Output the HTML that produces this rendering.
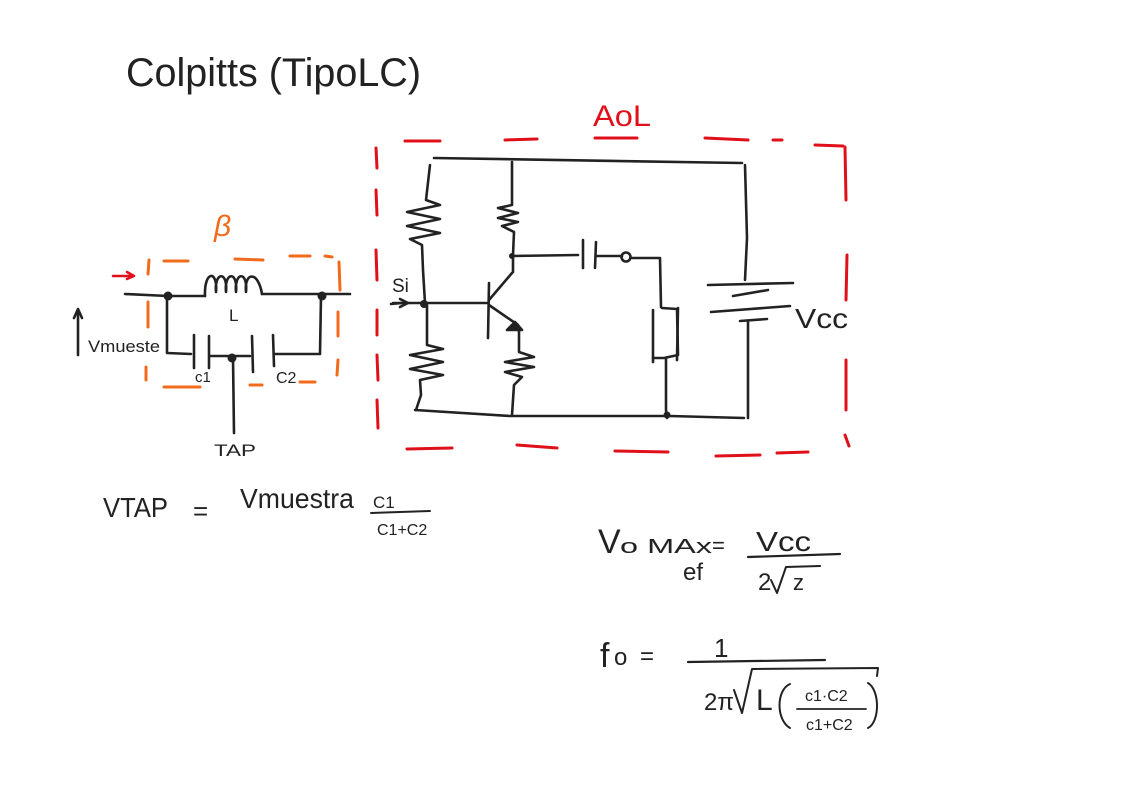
<!DOCTYPE html>
<html><head><meta charset="utf-8"><style>
html,body{margin:0;padding:0;background:#fff;}
svg{display:block}
text{font-family:"Liberation Sans",sans-serif;fill:#222}
</style></head><body>
<svg width="1123" height="793" viewBox="0 0 1123 793" xmlns="http://www.w3.org/2000/svg">
<g fill="none" stroke-linecap="round" stroke-linejoin="round">
<!-- Title -->
<text x="126" y="86" font-size="40" font-weight="300" textLength="295" lengthAdjust="spacingAndGlyphs" stroke="none">Colpitts (TipoLC)</text>
<!-- AoL -->
<text x="593" y="126" font-size="30" style="fill:#e0101a" textLength="58" lengthAdjust="spacingAndGlyphs">AoL</text>
<!-- red dashed box -->
<g stroke="#e0101a" stroke-width="3">
<line x1="376" y1="148" x2="377" y2="168"/><line x1="376" y1="190" x2="377" y2="215"/><line x1="376" y1="250" x2="377" y2="280"/><line x1="377" y1="310" x2="377" y2="335"/><line x1="377" y1="355" x2="378" y2="380"/><line x1="377" y1="400" x2="378" y2="428"/>
<line x1="405" y1="141" x2="440" y2="141"/><line x1="505" y1="140" x2="537" y2="139"/><line x1="595" y1="138" x2="637" y2="138"/><line x1="705" y1="138" x2="748" y2="140"/><line x1="773" y1="140" x2="782" y2="140"/><line x1="815" y1="145" x2="843" y2="146"/>
<line x1="845" y1="147" x2="846" y2="200"/><line x1="847" y1="255" x2="846" y2="300"/><line x1="846" y1="360" x2="846" y2="410"/><line x1="845" y1="435" x2="849" y2="446"/>
<line x1="407" y1="449" x2="452" y2="448"/><line x1="517" y1="445" x2="557" y2="448"/><line x1="615" y1="451" x2="668" y2="452"/><line x1="716" y1="456" x2="760" y2="455"/><line x1="777" y1="453" x2="808" y2="452"/>
</g>
<!-- main circuit -->
<g stroke="#222" stroke-width="2.6">
<line x1="434" y1="158" x2="742" y2="163"/>
<path d="M430 165 L426 200 L440 205 L407 212 L440 219 L407 226 L440 233 L410 239 L422 245 L423 270 L425 303"/>
<path d="M427 305 L427 345 L443 349 L410 355 L443 362 L410 369 L443 375 L420 380 L421 395 L416 410"/>
<path d="M415 410 L510 416 L670 416 L744 418"/>
<path d="M512 162 L512 205 L498 208 L518 213 L498 218 L518 222 L502 226 L514 232 L513 255 L513 272"/>
<path d="M512 256 L578 255"/><line x1="583" y1="240" x2="583" y2="268"/><line x1="596" y1="242" x2="595" y2="268"/><line x1="596" y1="256" x2="622" y2="256"/>
<circle cx="626" cy="257" r="4.5"/><path d="M631 258 L660 258 L661 307"/>
<path d="M662 308 L677 309 L678 355 L664 358 L653 358"/><line x1="653" y1="310" x2="653" y2="362"/><line x1="678" y1="308" x2="677" y2="360"/>
<path d="M666 358 L666 410 L667 418"/>
<line x1="393" y1="303" x2="488" y2="303"/><line x1="489" y1="283" x2="488" y2="338"/>
<line x1="489" y1="300" x2="512" y2="273"/>
<line x1="489" y1="305" x2="518" y2="325"/><path d="M507 330 L515 322 L522 330 Z" fill="#222"/>
<path d="M519 328 L519 352 L534 357 L505 362 L534 367 L505 372 L522 377 L514 385 L512 415"/>
<path d="M745 165 L747 238 L745 280"/>
<line x1="708" y1="285" x2="793" y2="283"/><line x1="733" y1="296" x2="768" y2="290"/><line x1="711" y1="312" x2="790" y2="306"/><line x1="740" y1="321" x2="767" y2="319"/>
<line x1="748" y1="322" x2="748" y2="418"/>
<line x1="391" y1="304" x2="402" y2="303"/><path d="M400 299 L408 303 L400 307" />
</g>
<circle cx="424" cy="304" r="4" fill="#222"/><circle cx="512" cy="256" r="3" fill="#222"/><circle cx="667" cy="415" r="3.5" fill="#222"/>
<text x="392" y="292" font-size="19">Si</text>
<text x="795" y="328" font-size="28" textLength="53" lengthAdjust="spacingAndGlyphs">Vcc</text>
<!-- beta -->
<text x="214" y="236" font-size="30" style="fill:#f26a1b" font-style="italic">β</text>
<g stroke="#f26a1b" stroke-width="3">
<line x1="149" y1="260" x2="148" y2="274"/><line x1="148" y1="302" x2="148" y2="327"/><line x1="146" y1="367" x2="146" y2="380"/>
<line x1="164" y1="261" x2="188" y2="261"/><line x1="235" y1="259" x2="263" y2="260"/><line x1="290" y1="256" x2="310" y2="256"/><line x1="325" y1="256" x2="332" y2="257"/>
<line x1="339" y1="262" x2="340" y2="290"/><line x1="338" y1="312" x2="338" y2="336"/><line x1="338" y1="360" x2="337" y2="375"/>
<line x1="164" y1="387" x2="200" y2="387"/><line x1="250" y1="385" x2="262" y2="385"/><line x1="300" y1="382" x2="315" y2="382"/>
</g>
<g stroke="#e0101a" stroke-width="2.5"><line x1="113" y1="276" x2="130" y2="276"/><path d="M127 272 L134 276 L127 279"/></g>
<g stroke="#222" stroke-width="2.6">
<path d="M125 294 L168 296 L205 296"/>
<path d="M205 296 C204 270 218 270 216 292 C214 272 228 270 226 292 C224 272 238 270 236 292 C234 272 248 270 246 292 C244 272 258 270 262 294"/>
<path d="M262 294 L350 294"/>
<path d="M167 296 L167 353 L191 354"/>
<line x1="194" y1="335" x2="194" y2="368"/><line x1="209" y1="336" x2="209" y2="368"/>
<line x1="210" y1="356" x2="250" y2="356"/>
<line x1="252" y1="336" x2="253" y2="372"/><line x1="273" y1="335" x2="274" y2="366"/>
<path d="M275 354 L320 354 L321 296"/>
<line x1="233" y1="358" x2="234" y2="433"/>
<line x1="78" y1="355" x2="78" y2="312"/><path d="M74 318 L78 309 L82 318"/>
</g>
<circle cx="168" cy="296" r="4.5" fill="#222"/><circle cx="322" cy="296" r="4.5" fill="#222"/><circle cx="232" cy="358" r="4.5" fill="#222"/>
<text x="229" y="321" font-size="17">L</text>
<text x="88" y="352" font-size="17" textLength="72" lengthAdjust="spacingAndGlyphs">Vmueste</text>
<text x="195" y="382" font-size="15">c1</text>
<text x="276" y="383" font-size="16">C2</text>
<text x="214" y="456" font-size="17" textLength="42" lengthAdjust="spacingAndGlyphs">TAP</text>
<!-- formula 1 -->
<text x="103" y="517" font-size="28" textLength="65" lengthAdjust="spacingAndGlyphs">VTAP</text>
<text x="193" y="520" font-size="26">=</text>
<text x="240" y="508" font-size="28" textLength="114" lengthAdjust="spacingAndGlyphs">Vmuestra</text>
<text x="373" y="508" font-size="17">C1</text>
<line x1="371" y1="513" x2="430" y2="511" stroke="#222" stroke-width="2"/>
<text x="377" y="535" font-size="16">C1+C2</text>
<!-- formula 2 -->
<text x="598" y="553" font-size="34">V</text>
<text x="620" y="553" font-size="20" textLength="92" lengthAdjust="spacingAndGlyphs">o MAx</text>
<text x="683" y="580" font-size="24">ef</text>
<text x="712" y="553" font-size="22">=</text>
<text x="756" y="551" font-size="28" textLength="55" lengthAdjust="spacingAndGlyphs">Vcc</text>
<line x1="748" y1="557" x2="840" y2="554" stroke="#222" stroke-width="2.2"/>
<text x="758" y="590" font-size="24">2</text>
<path d="M771 580 L777 593 L786 567 L820 566" stroke="#222" stroke-width="2"/>
<text x="793" y="590" font-size="22">z</text>
<!-- formula 3 -->
<text x="600" y="667" font-size="34">f</text>
<text x="614" y="665" font-size="24">o</text>
<text x="640" y="664" font-size="24">=</text>
<text x="714" y="657" font-size="26">1</text>
<line x1="688" y1="662" x2="825" y2="660" stroke="#222" stroke-width="2.2"/>
<text x="704" y="710" font-size="24">2π</text>
<path d="M734 690 L742 713 L752 669 L878 668 L877 676" stroke="#222" stroke-width="2"/>
<text x="756" y="710" font-size="30">L</text>
<path d="M790 684 C776 690 776 720 790 728" stroke="#222" stroke-width="2"/>
<text x="805" y="701" font-size="16">c1·C2</text>
<line x1="797" y1="709" x2="866" y2="709" stroke="#222" stroke-width="1.8"/>
<text x="806" y="730" font-size="16">c1+C2</text>
<path d="M868 683 C880 690 880 722 868 728" stroke="#222" stroke-width="2"/>
</g>
</svg>
</body></html>
